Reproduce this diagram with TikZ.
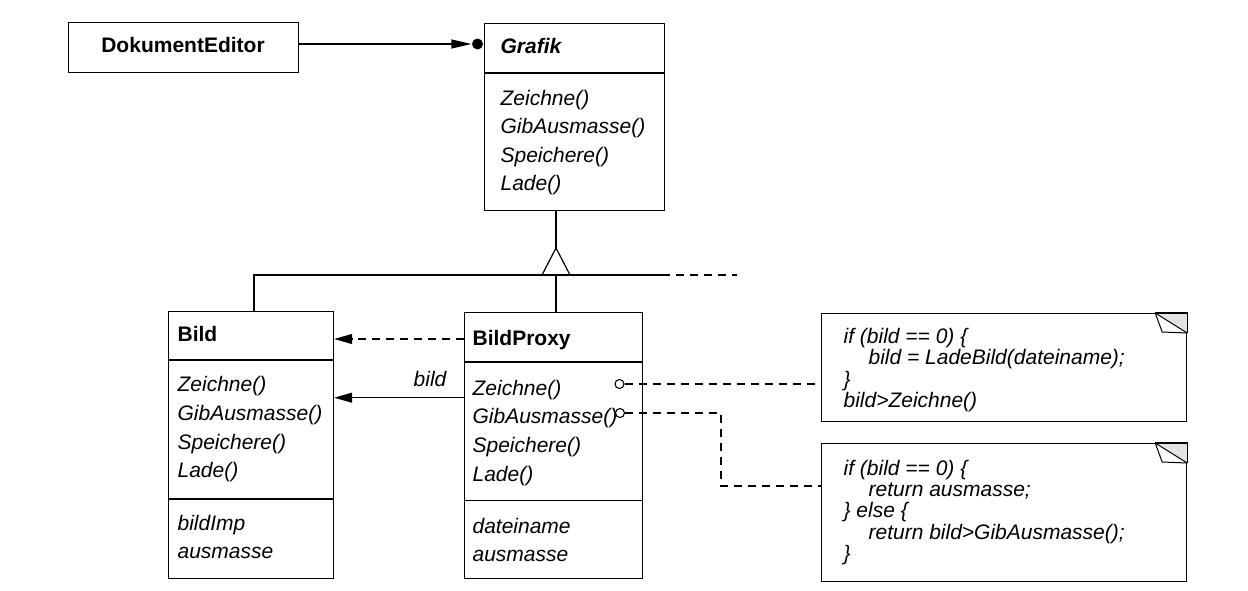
\documentclass[tikz,border=0pt]{standalone}
\usepackage{fontspec}
\setmainfont{Liberation Sans}
\usetikzlibrary{arrows.meta}
\begin{document}
\begin{tikzpicture}[x=1pt,y=-1pt,
  line width=1.2pt, line join=miter,
  box/.style={draw, inner sep=0pt, anchor=north west},
  txt/.style={anchor=base west, inner sep=0pt, font=\fontsize{21}{25}\selectfont\itshape},
  ttl/.style={anchor=base west, inner sep=0pt, font=\fontsize{21}{25}\selectfont\bfseries},
  dsh/.style={dash pattern=on 8pt off 6pt},
  tip/.style={-{Triangle[length=18pt,width=10pt]}},
  port/.style={circle, draw, fill=white, inner sep=0pt, minimum size=9pt, line width=1.1pt},
]
\useasboundingbox (0,0) rectangle (1248,590);

% DokumentEditor
\node[box, minimum width=230pt, minimum height=50pt] (dok) at (68,22) {};
\node[ttl, anchor=base] (dokT) at (183,52.7) {DokumentEditor};

% Grafik
\node[box, minimum width=180pt, minimum height=187pt] (grafik) at (484,23) {};
\draw (484,73) -- (664,73);
\node[ttl, font=\fontsize{21}{25}\selectfont\bfseries\itshape] (grafikT) at (500,53.3) {Grafik};
\node[txt] (g1) at (500,105) {Zeichne()};
\node[txt] (g2) at (500,133.5) {GibAusmasse()};
\node[txt] (g3) at (500,162) {Speichere()};
\node[txt] (g4) at (500,190.5) {Lade()};

% association DokumentEditor -> Grafik
\node[circle, fill, inner sep=0pt, minimum size=11pt] (dot) at (477.5,44) {};
\draw[-{Triangle[length=20pt,width=9pt]}] (dok.east |- dot) -- (dot.west);

% Bild
\node[box, minimum width=165pt, minimum height=267pt] (bild) at (168,311) {};
\draw (168,360) -- (333,360);
\draw (168,499) -- (333,499);
\node[ttl] (bildT) at (177,341.7) {Bild};
\node[txt] (b1) at (177,391.7) {Zeichne()};
\node[txt] (b2) at (177,420.4) {GibAusmasse()};
\node[txt] (b3) at (177,449.1) {Speichere()};
\node[txt] (b4) at (177,477.8) {Lade()};
\node[txt] (b5) at (177,530) {bildImp};
\node[txt] (b6) at (177,558) {ausmasse};

% BildProxy
\node[box, minimum width=178pt, minimum height=266pt] (proxy) at (464,312) {};
\draw (464,362) -- (642,362);
\node[ttl] (proxyT) at (472,345.7) {BildProxy};
\node[txt] (p1) at (472,395) {Zeichne()};
\node[txt] (p2) at (472,423.7) {GibAusmasse()};
\node[txt] (p3) at (472,452.4) {Speichere()};
\node[txt] (p4) at (472,481.1) {Lade()};
\draw (464,500.5) -- (642,500.5);
\node[txt] (p5) at (472,533.3) {dateiname};
\node[txt] (p6) at (472,561.7) {ausmasse};

% inheritance
\coordinate (apex) at (556,248);
\coordinate (hl) at (254,275);
\coordinate (hr) at (662,275);
\coordinate (hd) at (737,275);
\draw (grafik.south -| apex) -- (apex);
\draw (apex) -- (570,275) -- (542,275) -- cycle;
\draw (bild.north -| hl) -- (hl) -- (hr);
\draw[dsh] (hr) -- (hd);
\draw (apex |- hl) -- (proxy.north -| apex);

% Proxy -> Bild
\draw[dsh, tip] (proxy.west |- 0,339) -- (bild.east |- 0,339);
\draw[tip] (proxy.west |- 0,397.7) -- (bild.east |- 0,397.7);
\node[txt, anchor=base east] (lbl) at (447,386) {bild};

% notes
\node[box, minimum width=365pt, minimum height=108pt] (n1) at (821,313) {};
\node[box, minimum width=365pt, minimum height=138pt] (n2) at (821,443) {};
\foreach \n in {n1,n2}{
  \begin{scope}[shift={(\n.north east)}]
    \fill[gray!22] (-32,0) -- (0,0) -- (0,20) -- cycle;
    \draw (-32,0) -- (0,0) -- (0,20);
    \draw[line width=1pt] (-32,0) -- (0,20);
    \draw[line width=1pt] (-32,0) -- (-25,19) -- (0,20);
  \end{scope}
}
\node[txt] (t11) at (843,343) {if (bild == 0) \{};
\node[txt] (t12) at (868,364.5) {bild = LadeBild(dateiname);};
\node[txt] (t13) at (843,386) {\}};
\node[txt] (t14) at (843,407) {bild>Zeichne()};
\node[txt] (t21) at (843,475) {if (bild == 0) \{};
\node[txt] (t22) at (868,496) {return ausmasse;};
\node[txt] (t23) at (843,517.5) {\} else \{};
\node[txt] (t24) at (868,539) {return bild>GibAusmasse();};
\node[txt] (t25) at (843,560) {\}};

% ports and note links
\node[port] (c1) at (619.5,384) {};
\node[port] (c2) at (620,413) {};
\coordinate (k1) at (721,413);
\coordinate (k2) at (721,486);
\draw[dsh] (c1.east) -- (c1.east -| n1.west);
\draw[dsh] (c2.east) -- (k1) -- (k2) -- (k2 -| n2.west);
\end{tikzpicture}
\end{document}
